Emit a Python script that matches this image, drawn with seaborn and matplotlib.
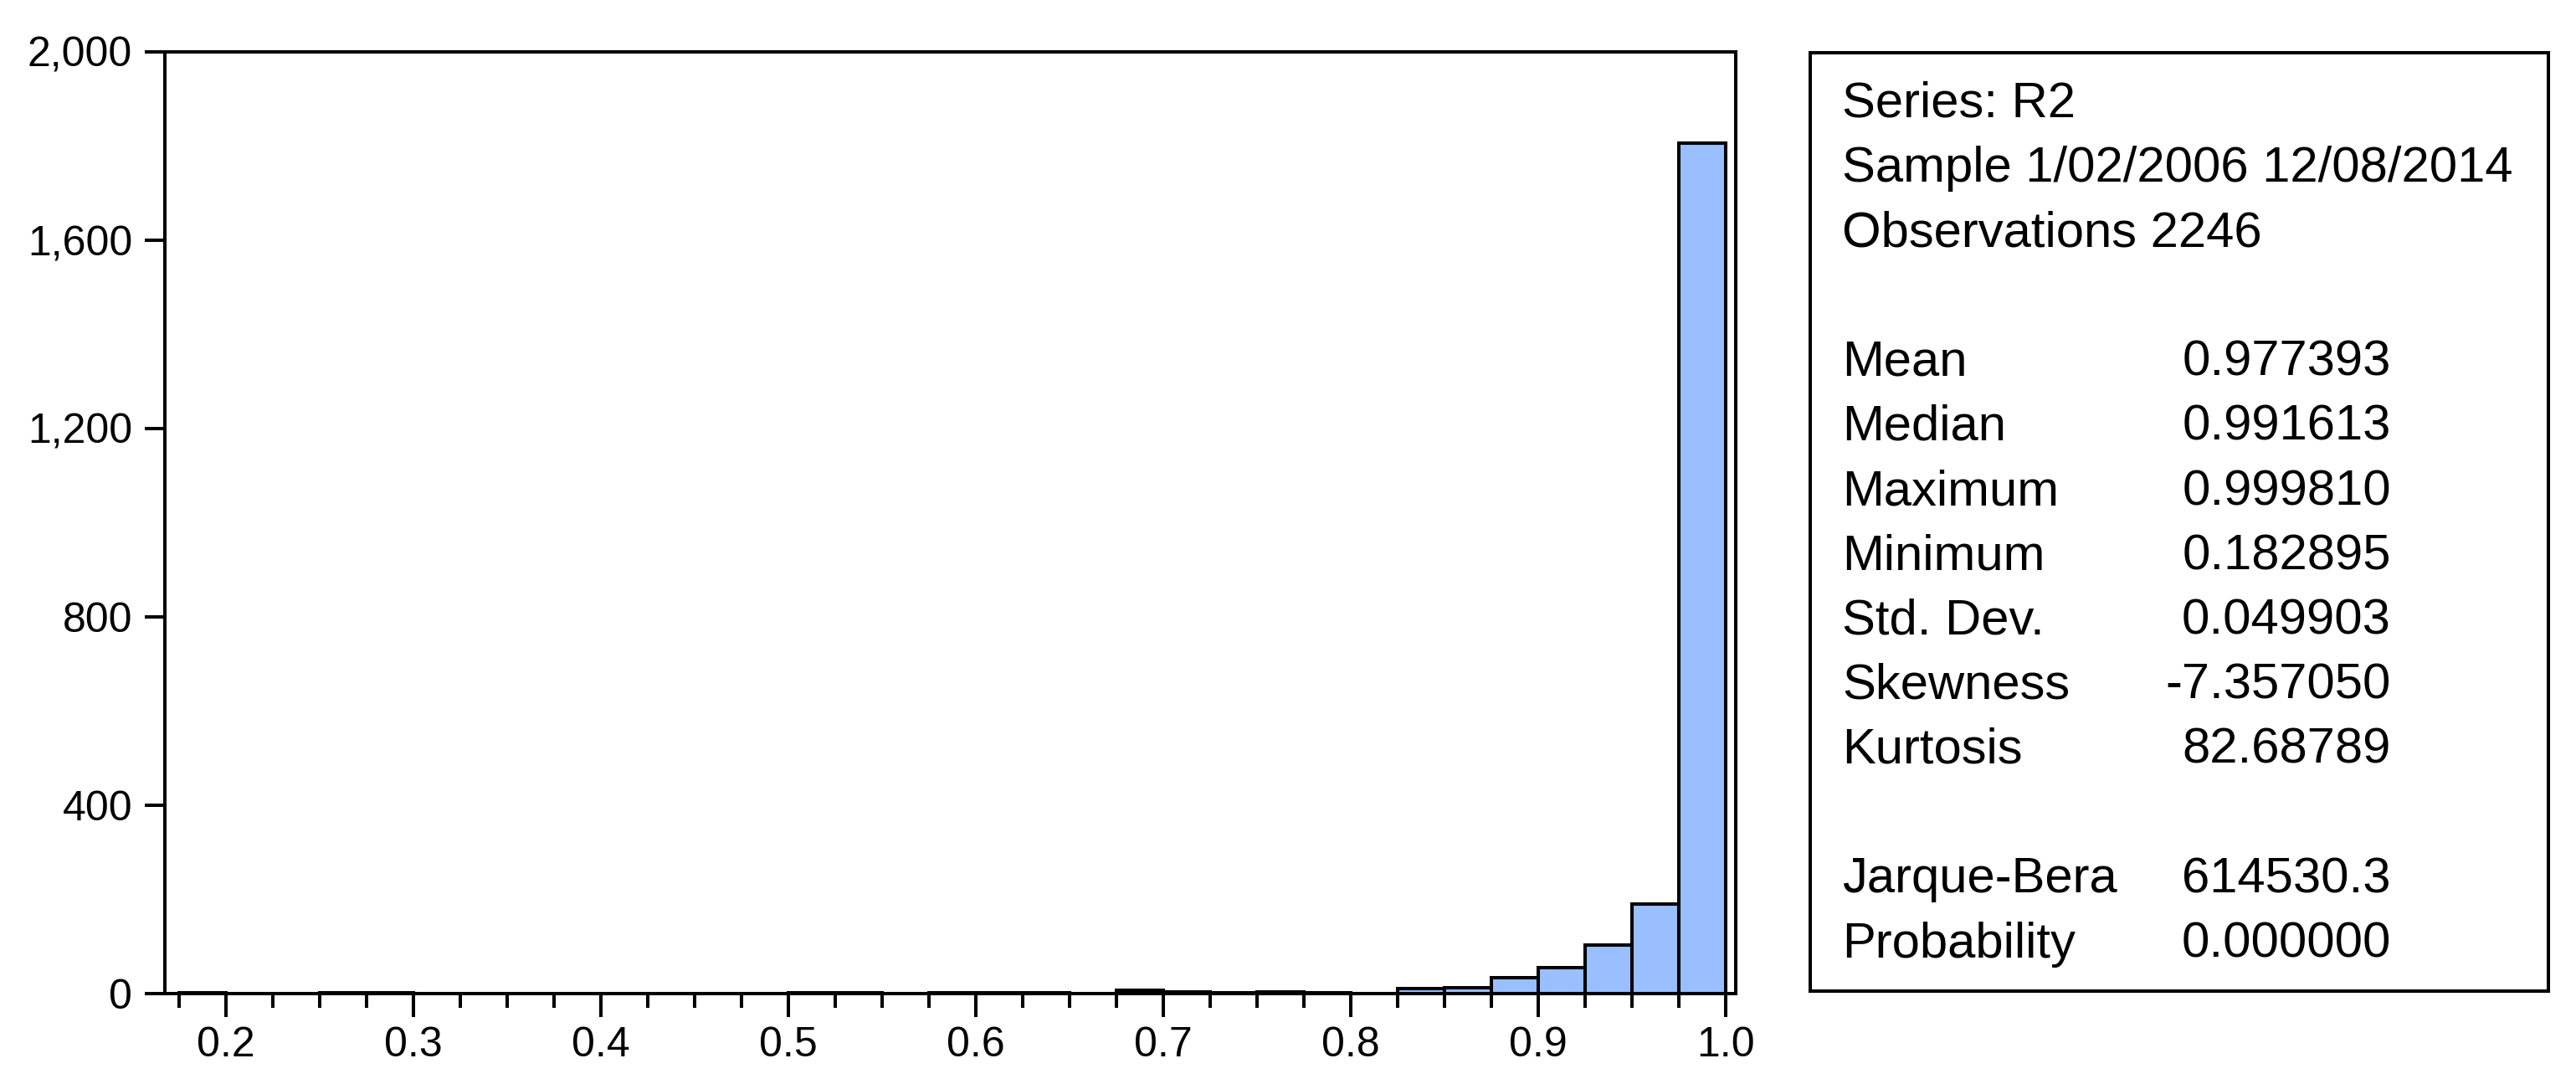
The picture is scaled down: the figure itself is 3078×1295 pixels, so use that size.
import matplotlib
matplotlib.use("Agg")
import matplotlib.pyplot as plt
from matplotlib.ticker import MultipleLocator, FuncFormatter, FormatStrFormatter
import seaborn as sns

# histogram of R2 (EViews style), bins of width 0.025
bin_edges = [0.175, 0.2, 0.225, 0.25, 0.275, 0.3, 0.325, 0.35, 0.375, 0.4,
             0.425, 0.45, 0.475, 0.5, 0.525, 0.55, 0.575, 0.6, 0.625, 0.65,
             0.675, 0.7, 0.725, 0.75, 0.775, 0.8, 0.825, 0.85, 0.875, 0.9,
             0.925, 0.95, 0.975, 1.0]
counts = [1, 0, 0, 1, 1, 0, 0, 0, 0, 0,
          0, 0, 0, 1, 1, 0, 1, 1, 2, 0,
          8, 3, 2, 3, 2, 0, 10, 12, 34, 56,
          104, 191, 1806]

y_ticks = [0, 400, 800, 1200, 1600, 2000]
x_ticks = [0.2, 0.3, 0.4, 0.5, 0.6, 0.7, 0.8, 0.9, 1.0]

stat_header = ["Series: R2", "Sample 1/02/2006 12/08/2014", "Observations 2246"]
stat_names = ["Mean", "Median", "Maximum", "Minimum", "Std. Dev.", "Skewness", "Kurtosis"]
stat_values = ["0.977393", "0.991613", "0.999810", "0.182895", "0.049903", "-7.357050", "82.68789"]
test_names = ["Jarque-Bera", "Probability"]
test_values = ["614530.3", "0.000000"]

sns.set_style("ticks")
plt.rcParams["font.family"] = ["Liberation Sans", "DejaVu Sans"]
plt.rcParams["text.color"] = "black"
plt.rcParams["axes.edgecolor"] = "black"
plt.rcParams["xtick.color"] = "black"
plt.rcParams["ytick.color"] = "black"

W, H = 3078, 1295
lw = 2.9
fig = plt.figure(figsize=(W / 100, H / 100), dpi=100)
ax = fig.add_axes([197 / W, 1 - 1187 / H, (2074 - 197) / W, (1187 - 62) / H])

centers = [(a + b) / 2 for a, b in zip(bin_edges[:-1], bin_edges[1:])]
sns.histplot(x=centers, weights=counts, bins=bin_edges, ax=ax,
             color="#99BFFF", edgecolor="black", linewidth=lw, alpha=1)

ax.set_xlim(0.1675, 1.0055)
ax.set_ylim(0, 2000)
ax.set_xticks(x_ticks)
ax.set_yticks(y_ticks)
ax.xaxis.set_minor_locator(MultipleLocator(0.025))
ax.xaxis.set_major_formatter(FormatStrFormatter("%.1f"))
ax.yaxis.set_major_formatter(FuncFormatter(lambda v, p: f"{v:,.0f}"))
ax.set_xlabel("")
ax.set_ylabel("")
for s in ax.spines.values():
    s.set_visible(True)
    s.set_linewidth(lw)
    s.set_color("black")
ax.tick_params(axis="x", which="major", direction="out", length=20, width=lw,
               labelsize=36, pad=8, top=False, colors="black")
ax.tick_params(axis="x", which="minor", direction="out", length=12, width=lw,
               top=False, colors="black")
ax.tick_params(axis="y", which="major", direction="out", length=17, width=lw,
               labelsize=36, pad=11, right=False, colors="black")

# statistics panel
box = [2163, 63, 3045, 1184]
ax2 = fig.add_axes([box[0] / W, 1 - box[3] / H, (box[2] - box[0]) / W, (box[3] - box[1]) / H])
ax2.set_xticks([])
ax2.set_yticks([])
for s in ax2.spines.values():
    s.set_linewidth(lw)
    s.set_color("black")

bw = box[2] - box[0]
bh = box[3] - box[1]
x_left = (2201 - box[0]) / bw
x_right = (2857 - box[0]) / bw
step = 77.2


def yfrac(line):
    return 1 - (140 + line * step - box[1]) / bh


for i, t in enumerate(stat_header):
    ax2.text(x_left, yfrac(i), t, transform=ax2.transAxes, fontsize=43,
             va="baseline", color="black")
for i, (n, v) in enumerate(zip(stat_names, stat_values)):
    ax2.text(x_left, yfrac(4 + i), n, transform=ax2.transAxes, fontsize=43,
             va="baseline", color="black")
    ax2.text(x_right, yfrac(4 + i), v, transform=ax2.transAxes, fontsize=43,
             va="baseline", ha="right", color="black")
for i, (n, v) in enumerate(zip(test_names, test_values)):
    ax2.text(x_left, yfrac(12 + i), n, transform=ax2.transAxes, fontsize=43,
             va="baseline", color="black")
    ax2.text(x_right, yfrac(12 + i), v, transform=ax2.transAxes, fontsize=43,
             va="baseline", ha="right", color="black")

fig.savefig("out.png", dpi=100, facecolor="white")
